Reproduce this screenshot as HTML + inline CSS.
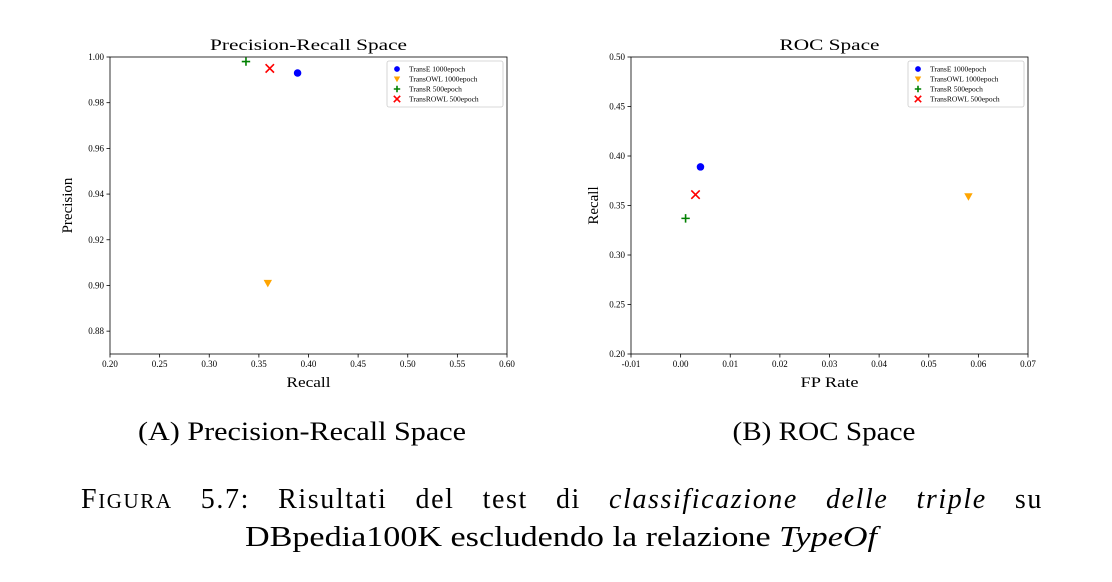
<!DOCTYPE html>
<html><head><meta charset="utf-8"><style>
body{margin:0;background:#fff;width:1112px;height:577px;overflow:hidden}
svg text{font-family:"Liberation Serif",serif}
</style></head><body>
<svg id="s" width="1112" height="577"></svg>
<script>
const seriesNames=["TransE 1000epoch","TransOWL 1000epoch","TransR 500epoch","TransROWL 500epoch"];
const prRecall=[0.389,0.359,0.337,0.361];
const prPrecision=[0.993,0.901,0.998,0.995];
const rocFP=[0.004,0.058,0.001,0.003];
const rocRecall=[0.389,0.359,0.337,0.361];
const prXTicks=[0.20,0.25,0.30,0.35,0.40,0.45,0.50,0.55,0.60];
const prYTicks=[0.88,0.90,0.92,0.94,0.96,0.98,1.00];
const rocXTicks=[-0.01,0.00,0.01,0.02,0.03,0.04,0.05,0.06,0.07];
const rocYTicks=[0.20,0.25,0.30,0.35,0.40,0.45,0.50];
const colors=["#0000ff","#ffa500","#008000","#ff0000"];
const NS="http://www.w3.org/2000/svg";
const svg=document.getElementById('s');
function el(t,a,p){const e=document.createElementNS(NS,t);for(const k in a)e.setAttribute(k,a[k]);(p||svg).appendChild(e);return e;}
function txt(x,y,s,size,anchor,p,extra){const e=el('text',Object.assign({x:x,y:y,'font-size':size,'text-anchor':anchor||'middle'},extra||{}),p);e.textContent=s;return e;}
function marker(g,i,x,y,sz){
 if(i===0){return el('circle',{cx:x,cy:y,r:sz*0.9,fill:colors[0]},g);}
 if(i===1){return el('polygon',{points:`${x-sz},${y-sz*0.8} ${x+sz},${y-sz*0.8} ${x},${y+sz}`,fill:colors[1]},g);}
 if(i===2){return el('path',{d:`M${x-sz},${y}H${x+sz}M${x},${y-sz}V${y+sz}`,stroke:colors[2],'stroke-width':1.6,fill:'none'},g);}
 return el('path',{d:`M${x-sz},${y-sz}L${x+sz},${y+sz}M${x-sz},${y+sz}L${x+sz},${y-sz}`,stroke:colors[3],'stroke-width':1.6,fill:'none'},g);
}
function plot(o){
 const g=el('g',{});
 
 
 const X=v=>o.x0+(v-o.xmin)/(o.xmax-o.xmin)*(o.x1-o.x0);
 const Y=v=>o.y1-(v-o.ymin)/(o.ymax-o.ymin)*(o.y1-o.y0);
 o.xt.forEach(t=>{const x=X(t);el('line',{x1:x,x2:x,y1:o.y1,y2:o.y1+3.5,stroke:'#000','stroke-width':0.8},g);
  txt(x,o.y1+13,t.toFixed(2),9,'middle',g);});
 o.yt.forEach(t=>{const y=Y(t);el('line',{x1:o.x0-3.5,x2:o.x0,y1:y,y2:y,stroke:'#000','stroke-width':0.8},g);
  txt(o.x0-6,y+3,t.toFixed(2),9,'end',g);});
 const fr=el('rect',{x:o.x0,y:o.y0,width:o.x1-o.x0,height:o.y1-o.y0,fill:'none',stroke:'#000','stroke-width':0.8},g);
 
 const tt=txt((o.x0+o.x1)/2,o.y0-7,o.title,16,'middle',g,{textLength:o.tw,lengthAdjust:'spacingAndGlyphs'});
 
 const xl=txt((o.x0+o.x1)/2,o.y1+33,o.xlab,15,'middle',g,{textLength:o.xw,lengthAdjust:'spacingAndGlyphs'});
 
 const cy=(o.y0+o.y1)/2, lx0=o.x0-o.yoff;
 const yl=txt(lx0,cy,o.ylab,15,'middle',g,{transform:`rotate(-90 ${lx0} ${cy})`});
 
 o.xs.forEach((v,i)=>{const m=marker(g,i,X(v),Y(o.ys[i]),4.2);
  
  });
 const lg=el('g',{},g);
 
 const lx=o.x1-120,ly=o.y0+4;
 el('rect',{x:lx,y:ly,width:116,height:46,rx:2,fill:'#fff',stroke:'#ccc','stroke-width':0.8},lg);
 seriesNames.forEach((n,i)=>{const yy=ly+8+i*10;marker(lg,i,lx+10,yy,3.2);
  const t=txt(lx+22,yy+2.5,n,7.5,'start',lg);
  });
}
plot({name:'precision-recall-chart',x0:110,x1:507,y0:57,y1:354,xmin:0.2,xmax:0.6,ymin:0.87,ymax:1.0,xt:prXTicks,yt:prYTicks,xs:prRecall,ys:prPrecision,title:'Precision-Recall Space',xlab:'Recall',ylab:'Precision',yoff:38,tw:197,xw:44});
plot({name:'roc-chart',x0:631,x1:1028,y0:57,y1:354,xmin:-0.01,xmax:0.07,ymin:0.2,ymax:0.5,xt:rocXTicks,yt:rocYTicks,xs:rocFP,ys:rocRecall,title:'ROC Space',xlab:'FP Rate',ylab:'Recall',yoff:33,tw:100,xw:58});
let c;
c=txt(302,440,'(A) Precision-Recall Space',26,'middle',null,{textLength:328,lengthAdjust:'spacingAndGlyphs'});
c=txt(824,440,'(B) ROC Space',26,'middle',null,{textLength:183,lengthAdjust:'spacingAndGlyphs'});
c=el('text',{x:81,y:508,'font-size':28,'letter-spacing':1.6});
c.innerHTML='F<tspan font-size="21">IGURA</tspan> 5.7: Risultati del test di <tspan font-style="italic">classificazione delle triple</tspan> su';

(function(){const w=c.getComputedTextLength();const extra=(1043-81-w)/9;if(extra>0)c.setAttribute('word-spacing',extra);})();
c=el('text',{x:561,y:546,'font-size':28,'text-anchor':'middle','textLength':632,'lengthAdjust':'spacingAndGlyphs'});
c.innerHTML='DBpedia100K escludendo la relazione <tspan font-style="italic">TypeOf</tspan>';

</script>
</body></html>
